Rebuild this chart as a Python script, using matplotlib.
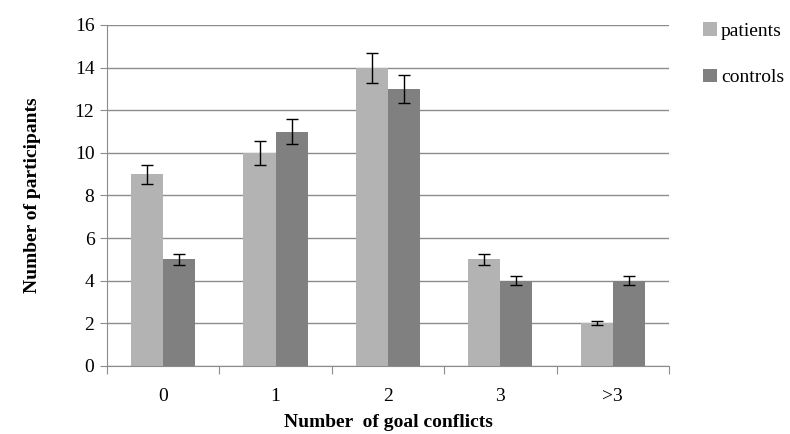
import matplotlib.pyplot as plt
import numpy as np

categories = ['0', '1', '2', '3', '>3']
patients = [9, 10, 14, 5, 2]
controls = [5, 11, 13, 4, 4]
patients_err = [0.45, 0.55, 0.7, 0.27, 0.1]
controls_err = [0.25, 0.6, 0.65, 0.22, 0.22]

plt.rcParams['font.family'] = ['Liberation Serif', 'DejaVu Serif']

fig = plt.figure(figsize=(7.9, 4.34), dpi=100)
ax = fig.add_axes([0.1354, 0.1567, 0.7114, 0.7857])

x = np.arange(len(categories))
w = 0.2857
ax.bar(x - w / 2, patients, w, color='#b3b3b3', label='patients', zorder=2)
ax.bar(x + w / 2, controls, w, color='#808080', label='controls', zorder=2)
ax.errorbar(x - w / 2, patients, yerr=patients_err, fmt='none', ecolor='black',
            elinewidth=1, capsize=4, capthick=1, zorder=3)
ax.errorbar(x + w / 2, controls, yerr=controls_err, fmt='none', ecolor='black',
            elinewidth=1, capsize=4, capthick=1, zorder=3)

ax.set_xlim(-0.5, len(categories) - 0.5)
ax.set_ylim(0, 16)
ax.set_yticks(range(0, 17, 2))
ax.yaxis.grid(True, color='#8c8c8c', linewidth=1, zorder=0)
ax.set_axisbelow(True)

ax.set_xticks(np.arange(-0.5, len(categories), 1))
ax.set_xticklabels([])
ax.set_xticks(x, minor=True)
ax.set_xticklabels(categories, minor=True)
ax.tick_params(axis='x', which='major', length=6, color='#8c8c8c', direction='out')
ax.tick_params(axis='x', which='minor', length=0, pad=16, labelsize=14)
ax.tick_params(axis='y', length=5, color='#8c8c8c', labelsize=14, pad=4)

for s in ['top', 'right']:
    ax.spines[s].set_visible(False)
for s in ['left', 'bottom']:
    ax.spines[s].set_color('#8c8c8c')

ax.set_xlabel('Number  of goal conflicts', fontweight='bold', fontsize=14, labelpad=6)
ax.set_ylabel('Number of participants', fontweight='bold', fontsize=14, labelpad=24)

ax.legend(loc='upper left', bbox_to_anchor=(1.03, 1.06), frameon=False,
          prop={'family': 'Liberation Serif', 'size': 14},
          handlelength=0.7, handleheight=0.7, handletextpad=0.2, labelspacing=1.5)

fig.savefig('out.png', dpi=100)
